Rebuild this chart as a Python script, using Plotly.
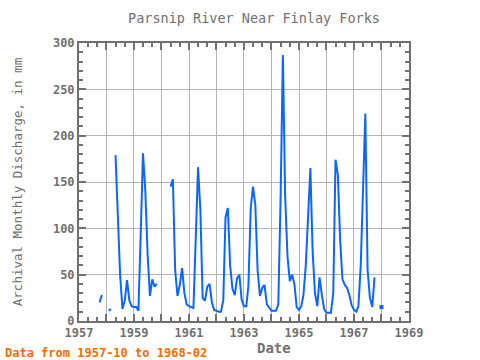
import plotly.graph_objects as go

# Monthly discharge (mm), starting 1957-10; None = missing month
v1957 = [20, 28, None]                                    # Oct-Dec
v1958 = [None, 11, 13, None, 179, 120, 50, 13, 22, 44, 22, 16]
v1959 = [15, 15, 11, 95, 181, 140, 72, 27, 45, 37, 40, None]
v1960 = [None, None, None, None, 145, 153, 55, 27, 39, 57, 30, 18]
v1961 = [16, 15, 14, 90, 166, 120, 25, 22, 37, 40, 20, 12]
v1962 = [11, 10, 10, 22, 112, 122, 60, 35, 28, 46, 50, 23]
v1963 = [16, 16, 38, 122, 145, 125, 55, 27, 36, 39, 18, 14]
v1964 = [11, 11, 11, 18, 130, 287, 135, 70, 43, 50, 40, 15]
v1965 = [12, 16, 28, 60, 118, 165, 75, 30, 16, 47, 28, 13]
v1966 = [9, 9, 9, 30, 174, 158, 88, 45, 39, 36, 28, 17]
v1967 = [12, 10, 16, 60, 155, 224, 55, 25, 15, 47, None, None]
v1968 = [15, None]                                         # Jan-Feb

start_year, start_month = 1957, 10
values = v1957 + v1958 + v1959 + v1960 + v1961 + v1962 + v1963 + v1964 + v1965 + v1966 + v1967 + v1968

dates = []
y, m = start_year, start_month
for _ in values:
    dates.append(f"{y:04d}-{m:02d}-01")
    m += 1
    if m > 12:
        m = 1
        y += 1

# isolated points (no neighbour) need a marker to be visible
iso_x, iso_y = [], []
for i, v in enumerate(values):
    if v is None:
        continue
    prev_ok = i > 0 and values[i - 1] is not None
    next_ok = i < len(values) - 1 and values[i + 1] is not None
    if not prev_ok and not next_ok:
        iso_x.append(dates[i])
        iso_y.append(v)

line_color = "#0a66ff"
grey = "#707070"
font_family = "DejaVu Sans Mono"

fig = go.Figure()
fig.add_trace(go.Scatter(x=dates, y=values, mode="lines",
                         line=dict(color=line_color, width=2),
                         connectgaps=False, showlegend=False))
fig.add_trace(go.Scatter(x=iso_x, y=iso_y, mode="markers",
                         marker=dict(color=line_color, size=4, symbol="square"),
                         showlegend=False))

year_vals = [f"{yy}-01-01" for yy in range(1957, 1970)]
year_text = [str(yy) if (yy - 1957) % 2 == 0 else "" for yy in range(1957, 1970)]

fig.update_layout(
    width=480, height=360,
    margin=dict(l=79, r=71, t=43, b=39, autoexpand=False),
    paper_bgcolor="white", plot_bgcolor="white",
    font=dict(family=font_family, color=grey),
    xaxis=dict(
        range=["1957-01-01", "1969-01-01"], automargin=False,
        tickmode="array", tickvals=year_vals, ticktext=year_text,
        ticks="inside", ticklen=7, tickwidth=2, tickcolor=grey,
        mirror="allticks", showline=True, linecolor=grey, linewidth=2,
        showgrid=True, gridcolor="#b4b4b4", gridwidth=1,
        tickfont=dict(size=12, color=grey, family=font_family, weight="bold"),
        minor=dict(tick0="1957-01-01", dtick="M4", ticks="inside", ticklen=4,
                   tickwidth=2, tickcolor=grey, showgrid=False),
        zeroline=False,
    ),
    yaxis=dict(
        range=[0, 300], dtick=50, automargin=False,
        ticks="inside", ticklen=7, tickwidth=2, tickcolor=grey,
        mirror="allticks", showline=True, linecolor=grey, linewidth=2,
        showgrid=True, gridcolor="#b4b4b4", gridwidth=1,
        tickfont=dict(size=12, color=grey, family=font_family, weight="bold"),
        title=dict(text="Archival Monthly Discharge, in mm",
                   font=dict(size=12.5, color=grey), standoff=28),
        minor=dict(dtick=10, ticks="inside", ticklen=4, tickwidth=2,
                   tickcolor=grey, showgrid=False),
        zeroline=False,
    ),
    annotations=[
        dict(text="Parsnip River Near Finlay Forks", xref="paper", yref="paper",
             x=175/330, y=1.0, yshift=25, xanchor="center", yanchor="middle",
             showarrow=False, font=dict(size=13.5, color=grey, family=font_family)),
        dict(text="<b>Date</b>", xref="paper", yref="paper",
             x=195/330, y=0, yshift=-27, xanchor="center", yanchor="middle",
             showarrow=False, font=dict(size=14, color=grey, family=font_family)),
        dict(text="<b>Data from 1957-10 to 1968-02</b>", xref="paper", yref="paper",
             x=-76/330, y=0, yshift=-32, xanchor="left", yanchor="middle",
             showarrow=False, font=dict(size=12, color="#ff6a00", family=font_family)),
    ],
)

fig.write_html("out.html", config={"displayModeBar": False},
               post_script="document.body.style.margin='0';")
